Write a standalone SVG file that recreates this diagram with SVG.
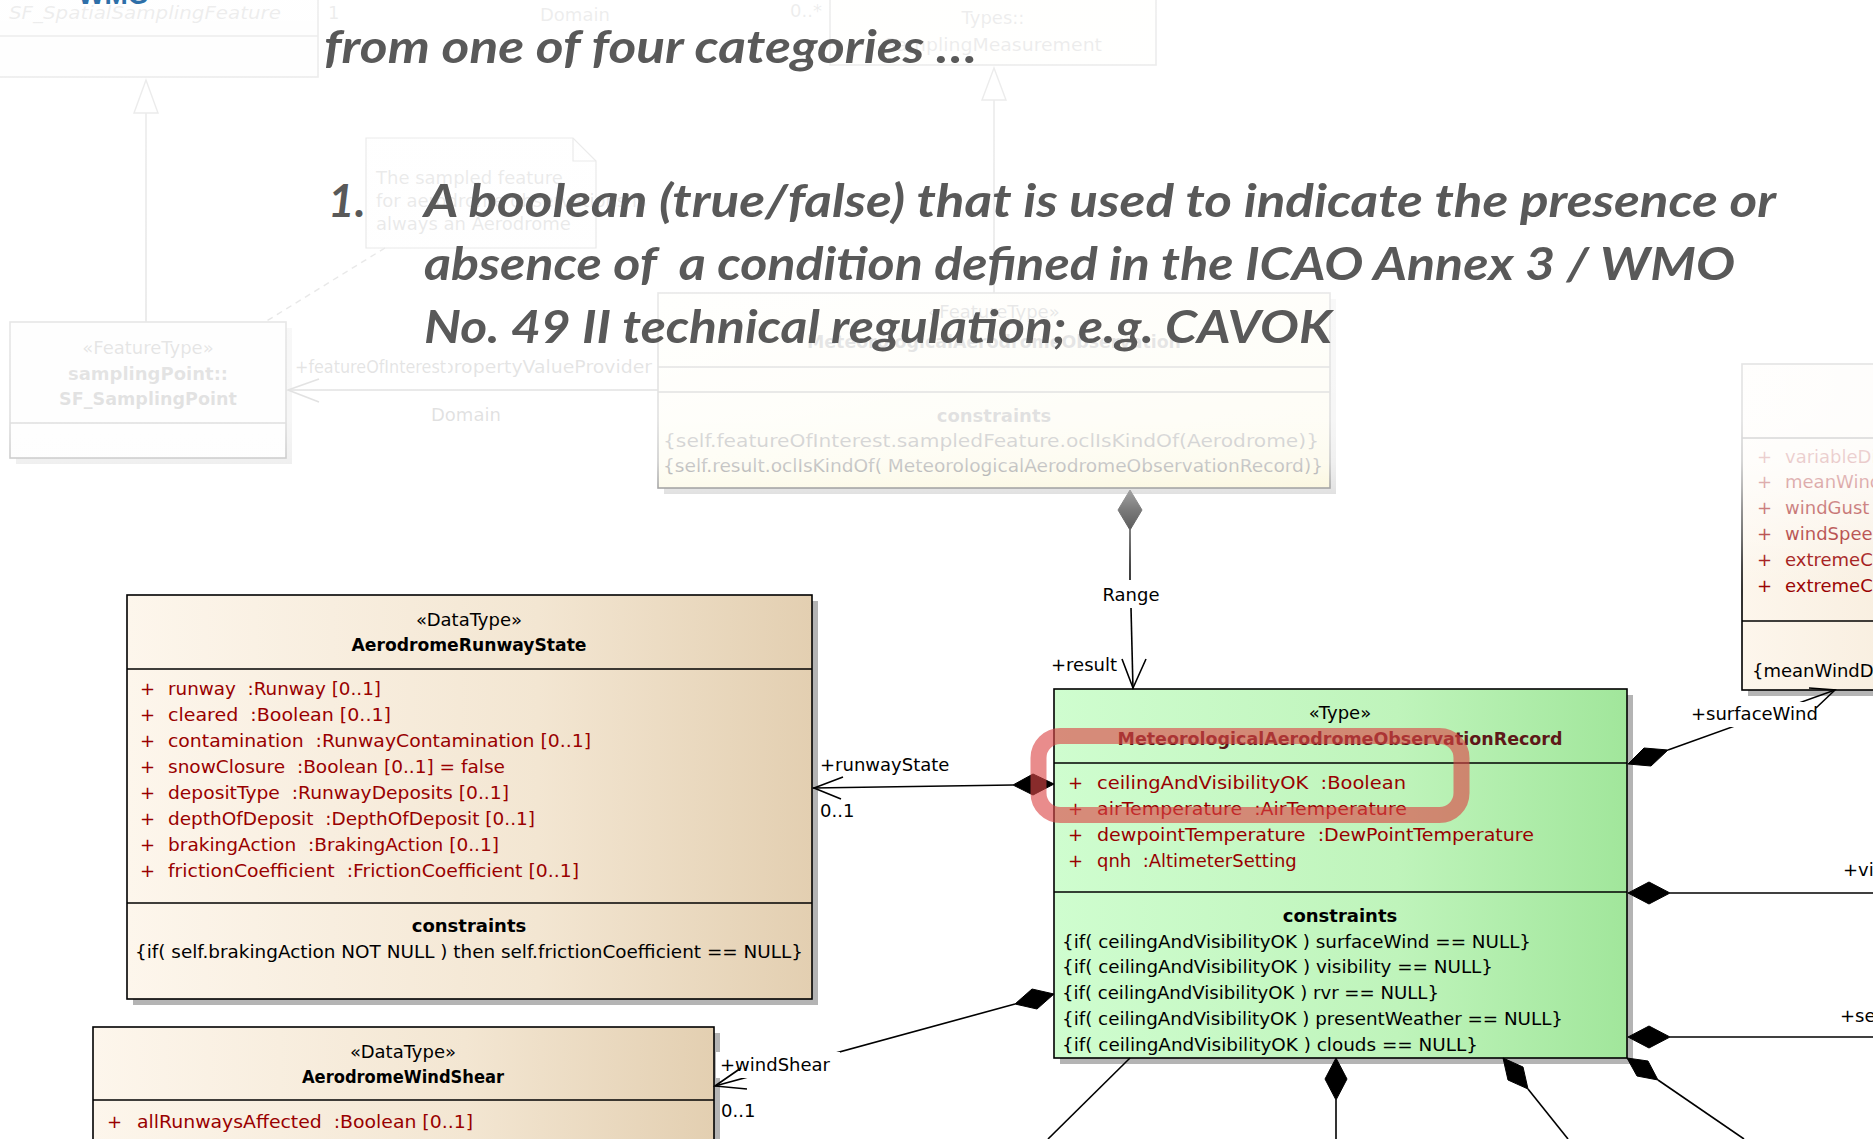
<svg xmlns="http://www.w3.org/2000/svg" width="1873" height="1139" viewBox="0 0 1873 1139">
<defs>
  <linearGradient id="gCream" x1="0" y1="0" x2="1" y2="0">
    <stop offset="0" stop-color="#fdf6ec"/><stop offset="0.6" stop-color="#f3e6d2"/><stop offset="1" stop-color="#e3cfb1"/>
  </linearGradient>
  <linearGradient id="gGreen" x1="0" y1="0" x2="1" y2="0">
    <stop offset="0" stop-color="#cffdcf"/><stop offset="0.6" stop-color="#bff4bb"/><stop offset="1" stop-color="#a1e69b"/>
  </linearGradient>
  <linearGradient id="gYellow" x1="0" y1="0" x2="1" y2="1">
    <stop offset="0" stop-color="#ffffee"/><stop offset="1" stop-color="#f4e9a8"/>
  </linearGradient>
  <linearGradient id="gFade" gradientUnits="userSpaceOnUse" x1="0" y1="0" x2="0" y2="600">
    <stop offset="0" stop-color="#fff" stop-opacity="0.93"/>
    <stop offset="0.5" stop-color="#fff" stop-opacity="0.91"/>
    <stop offset="0.70" stop-color="#fff" stop-opacity="0.88"/>
    <stop offset="0.77" stop-color="#fff" stop-opacity="0.8"/>
    <stop offset="0.813" stop-color="#fff" stop-opacity="0.65"/>
    <stop offset="0.85" stop-color="#fff" stop-opacity="0.48"/>
    <stop offset="0.9" stop-color="#fff" stop-opacity="0.3"/>
    <stop offset="0.943" stop-color="#fff" stop-opacity="0.1"/>
    <stop offset="0.985" stop-color="#fff" stop-opacity="0"/>
  </linearGradient>
</defs>
<style>
  .t{font-family:"DejaVu Sans",Verdana,sans-serif;font-size:18px;fill:#000;white-space:pre}
  .tb{font-weight:bold}
  .ti{font-style:italic}
  .tm{text-anchor:middle}
  .te{text-anchor:end}
  .tr{fill:#990000}
  .box{stroke:#000;stroke-width:1.6}
  .sh{fill:#b4b4b4}
  .ln{stroke:#000;stroke-width:1.6;fill:none}
  .dia{fill:#000;stroke:#000;stroke-width:1}
  .lbg{fill:#fff}
  .slide{font-family:Lato,"Open Sans",sans-serif;font-weight:700;font-style:italic;font-size:46px;fill:#595959;white-space:pre}
</style>
<rect x="0" y="0" width="1873" height="1139" fill="#fff"/>

<!-- faded upper nodes -->
<g id="SF_SpatialSamplingFeature">
  <rect x="-4" y="-10" width="322" height="87" fill="#f8f8f8" class="box"/>
  <line x1="-4" y1="36" x2="318" y2="36" class="ln"/>
  <text x="145" y="19" class="t ti tm" textLength="272" lengthAdjust="spacingAndGlyphs">SF_SpatialSamplingFeature</text>
</g>
<g id="Types_SamplingMeasurement">
  <rect x="830" y="-10" width="326" height="75" fill="#ffffee" class="box"/>
  <text x="993" y="24" class="t tm">Types::</text>
  <text x="993" y="51" class="t tm" textLength="218" lengthAdjust="spacingAndGlyphs">SamplingMeasurement</text>
</g>
<g id="note">
  <polygon points="366,138 573,138 596,161 596,248 366,248" fill="#fbfbfb" stroke="#000" stroke-width="1.2"/>
  <path d="M573,138 V161 H596" fill="none" stroke="#000" stroke-width="1.2"/>
  <text x="376" y="184" class="t">The sampled feature</text>
  <text x="376" y="207" class="t">for aerodrome observations is</text>
  <text x="376" y="230" class="t">always an Aerodrome</text>
</g>
<g id="samplingPoint">
  <rect x="16" y="328" width="276" height="136" class="sh"/>
  <rect x="10" y="322" width="276" height="136" fill="#f8f8f8" class="box"/>
  <line x1="10" y1="423" x2="286" y2="423" class="ln"/>
  <text x="148" y="354" class="t tm">«FeatureType»</text>
  <text x="148" y="380" class="t tb tm">samplingPoint::</text>
  <text x="148" y="405" class="t tb tm" textLength="178" lengthAdjust="spacingAndGlyphs">SF_SamplingPoint</text>
</g>
<g id="MeteorologicalAerodromeObservation">
  <rect x="664" y="299" width="672" height="195" class="sh"/>
  <rect x="658" y="293" width="672" height="195" fill="url(#gYellow)" class="box"/>
  <line x1="658" y1="367" x2="1330" y2="367" class="ln"/>
  <line x1="658" y1="392" x2="1330" y2="392" class="ln"/>
  <text x="994" y="318" class="t tm">«FeatureType»</text>
  <text x="994" y="348" class="t tb tm" textLength="374" lengthAdjust="spacingAndGlyphs">MeteorologicalAerodromeObservation</text>
  <text x="994" y="422" class="t tb tm">constraints</text>
  <text x="663" y="447" class="t" textLength="656" lengthAdjust="spacingAndGlyphs">{self.featureOfInterest.sampledFeature.oclIsKindOf(Aerodrome)}</text>
  <text x="663" y="472" class="t" textLength="660" lengthAdjust="spacingAndGlyphs">{self.result.oclIsKindOf( MeteorologicalAerodromeObservationRecord)}</text>
</g>
<g id="WindBox">
  <rect x="1748" y="370" width="520" height="326" class="sh"/>
  <rect x="1742" y="364" width="520" height="326" fill="url(#gCream)" class="box"/>
  <line x1="1742" y1="438" x2="2262" y2="438" class="ln"/>
  <line x1="1742" y1="621" x2="2262" y2="621" class="ln"/>
  <text x="1757" y="463" class="t tr">+</text><text x="1785" y="463" class="t tr">variableDirection</text>
  <text x="1757" y="488" class="t tr">+</text><text x="1785" y="488" class="t tr">meanWindDirection</text>
  <text x="1757" y="514" class="t tr">+</text><text x="1785" y="514" class="t tr">windGust</text>
  <text x="1757" y="540" class="t tr">+</text><text x="1785" y="540" class="t tr">windSpeed</text>
  <text x="1757" y="566" class="t tr">+</text><text x="1785" y="566" class="t tr">extremeClockwiseWindDirection</text>
  <text x="1757" y="592" class="t tr">+</text><text x="1785" y="592" class="t tr">extremeCounterClockwiseWindDirection</text>
  <text x="1752" y="677" class="t">{meanWindDirection</text>
</g>

<!-- lower nodes -->
<g id="AerodromeRunwayState">
  <rect x="133" y="601" width="685" height="404" class="sh"/>
  <rect x="127" y="595" width="685" height="404" fill="url(#gCream)" class="box"/>
  <line x1="127" y1="669" x2="812" y2="669" class="ln"/>
  <line x1="127" y1="903" x2="812" y2="903" class="ln"/>
  <text x="469" y="626" class="t tm">«DataType»</text>
  <text x="469" y="651" class="t tb tm" textLength="235" lengthAdjust="spacingAndGlyphs">AerodromeRunwayState</text>
  <text x="140" y="695" class="t tr">+</text><text x="168" y="695" class="t tr" textLength="213" lengthAdjust="spacingAndGlyphs">runway  :Runway [0..1]</text>
  <text x="140" y="721" class="t tr">+</text><text x="168" y="721" class="t tr" textLength="223" lengthAdjust="spacingAndGlyphs">cleared  :Boolean [0..1]</text>
  <text x="140" y="747" class="t tr">+</text><text x="168" y="747" class="t tr" textLength="423" lengthAdjust="spacingAndGlyphs">contamination  :RunwayContamination [0..1]</text>
  <text x="140" y="773" class="t tr">+</text><text x="168" y="773" class="t tr" textLength="337" lengthAdjust="spacingAndGlyphs">snowClosure  :Boolean [0..1] = false</text>
  <text x="140" y="799" class="t tr">+</text><text x="168" y="799" class="t tr" textLength="341" lengthAdjust="spacingAndGlyphs">depositType  :RunwayDeposits [0..1]</text>
  <text x="140" y="825" class="t tr">+</text><text x="168" y="825" class="t tr" textLength="367" lengthAdjust="spacingAndGlyphs">depthOfDeposit  :DepthOfDeposit [0..1]</text>
  <text x="140" y="851" class="t tr">+</text><text x="168" y="851" class="t tr" textLength="331" lengthAdjust="spacingAndGlyphs">brakingAction  :BrakingAction [0..1]</text>
  <text x="140" y="877" class="t tr">+</text><text x="168" y="877" class="t tr" textLength="411" lengthAdjust="spacingAndGlyphs">frictionCoefficient  :FrictionCoefficient [0..1]</text>
  <text x="469" y="932" class="t tb tm">constraints</text>
  <text x="135" y="958" class="t" textLength="668" lengthAdjust="spacingAndGlyphs">{if( self.brakingAction NOT NULL ) then self.frictionCoefficient == NULL}</text>
</g>
<g id="AerodromeWindShear">
  <rect x="99" y="1033" width="621" height="140" class="sh"/>
  <rect x="93" y="1027" width="621" height="140" fill="url(#gCream)" class="box"/>
  <line x1="93" y1="1100" x2="714" y2="1100" class="ln"/>
  <text x="403" y="1058" class="t tm">«DataType»</text>
  <text x="403" y="1083" class="t tb tm" textLength="202" lengthAdjust="spacingAndGlyphs">AerodromeWindShear</text>
  <text x="107" y="1128" class="t tr">+</text><text x="137" y="1128" class="t tr" textLength="336" lengthAdjust="spacingAndGlyphs">allRunwaysAffected  :Boolean [0..1]</text>
</g>
<g id="MeteorologicalAerodromeObservationRecord">
  <rect x="1060" y="695" width="573" height="369" class="sh"/>
  <rect x="1054" y="689" width="573" height="369" fill="url(#gGreen)" class="box"/>
  <line x1="1054" y1="763" x2="1627" y2="763" class="ln"/>
  <line x1="1054" y1="892" x2="1627" y2="892" class="ln"/>
  <text x="1340" y="719" class="t tm">«Type»</text>
  <text x="1340" y="745" class="t tb tm" style="fill:#5e1818" textLength="445" lengthAdjust="spacingAndGlyphs">MeteorologicalAerodromeObservationRecord</text>
  <text x="1068" y="789" class="t tr">+</text><text x="1097" y="789" class="t tr" textLength="309" lengthAdjust="spacingAndGlyphs">ceilingAndVisibilityOK  :Boolean</text>
  <text x="1068" y="815" class="t tr">+</text><text x="1097" y="815" class="t tr" textLength="310" lengthAdjust="spacingAndGlyphs">airTemperature  :AirTemperature</text>
  <text x="1068" y="841" class="t tr">+</text><text x="1097" y="841" class="t tr" textLength="437" lengthAdjust="spacingAndGlyphs">dewpointTemperature  :DewPointTemperature</text>
  <text x="1068" y="867" class="t tr">+</text><text x="1097" y="867" class="t tr">qnh  :AltimeterSetting</text>
  <text x="1340" y="922" class="t tb tm">constraints</text>
  <text x="1062" y="948" class="t" textLength="469" lengthAdjust="spacingAndGlyphs">{if( ceilingAndVisibilityOK ) surfaceWind == NULL}</text>
  <text x="1062" y="973" class="t" textLength="431" lengthAdjust="spacingAndGlyphs">{if( ceilingAndVisibilityOK ) visibility == NULL}</text>
  <text x="1062" y="999" class="t" textLength="377" lengthAdjust="spacingAndGlyphs">{if( ceilingAndVisibilityOK ) rvr == NULL}</text>
  <text x="1062" y="1025" class="t" textLength="501" lengthAdjust="spacingAndGlyphs">{if( ceilingAndVisibilityOK ) presentWeather == NULL}</text>
  <text x="1062" y="1051" class="t" textLength="416" lengthAdjust="spacingAndGlyphs">{if( ceilingAndVisibilityOK ) clouds == NULL}</text>
</g>

<g id="connectors">
  <!-- generalizations (faded) -->
  <line x1="146" y1="113" x2="146" y2="322" class="ln"/>
  <polygon points="146,80 134,113 158,113" fill="#fff" stroke="#000" stroke-width="1.4"/>
  <line x1="994" y1="100" x2="994" y2="293" class="ln"/>
  <polygon points="994,68 982,100 1006,100" fill="#fff" stroke="#000" stroke-width="1.4"/>
  <text x="328" y="19" class="t">1</text>
  <text x="540" y="21" class="t">Domain</text>
  <text x="790" y="17" class="t">0..*</text>
  <!-- note link -->
  <line x1="385" y1="248" x2="265" y2="322" stroke="#000" stroke-width="1.4" stroke-dasharray="6,5"/>
  <!-- featureOfInterest -->
  <line x1="658" y1="390" x2="288" y2="390" class="ln"/>
  <polyline points="319,379 288,390 319,402" class="ln"/>
  <text x="652" y="373" class="t te" textLength="226" lengthAdjust="spacingAndGlyphs">+propertyValueProvider</text>
  <rect x="293" y="357" width="155" height="21" class="lbg"/>
  <text x="295" y="373" class="t" textLength="151" lengthAdjust="spacingAndGlyphs">+featureOfInterest</text>
  <text x="431" y="421" class="t">Domain</text>
  <!-- Range / result -->
  <polygon points="1130,490 1142,510 1130,530 1118,510" class="dia"/>
  <line x1="1130" y1="530" x2="1130" y2="580" class="ln"/>
  <text x="1131" y="601" class="t tm">Range</text>
  <line x1="1131" y1="608" x2="1133" y2="689" class="ln"/>
  <polyline points="1122,659 1133,688 1146,659" class="ln"/>
  <text x="1117" y="671" class="t te">+result</text>
  <!-- runwayState -->
  <line x1="813" y1="788" x2="1013" y2="785" class="ln"/>
  <polyline points="843,777 814,788 841,799" class="ln"/>
  <polygon points="1013,785 1033,774 1054,784 1033,795" class="dia"/>
  <text x="820" y="771" class="t">+runwayState</text>
  <text x="820" y="817" class="t">0..1</text>
  <!-- windShear -->
  <polygon points="1054,994 1037,1009 1015,1004 1032,989" class="dia"/>
  <line x1="1015" y1="1004" x2="715" y2="1086" class="ln"/>
  <rect x="716" y="1052" width="124" height="26" class="lbg"/>
  <polyline points="741,1068 715,1086 747,1089" class="ln"/>
  <text x="720" y="1071" class="t">+windShear</text>
  <text x="721" y="1117" class="t">0..1</text>
  <!-- surfaceWind -->
  <polygon points="1628,764 1651,766 1668,750 1644,748" class="dia"/>
  <line x1="1668" y1="750" x2="1835" y2="690" class="ln"/>
  <rect x="1688" y="702" width="132" height="25" class="lbg"/>
  <polyline points="1816,708 1835,690 1809,688" class="ln"/>
  <text x="1691" y="720" class="t">+surfaceWind</text>
  <!-- right horizontal -->
  <polygon points="1628,893 1649,882 1670,893 1649,904" class="dia"/>
  <line x1="1670" y1="893" x2="1873" y2="893" class="ln"/>
  <text x="1843" y="876" class="t">+visibility</text>
  <polygon points="1628,1037 1649,1026 1670,1037 1649,1048" class="dia"/>
  <line x1="1670" y1="1037" x2="1873" y2="1037" class="ln"/>
  <text x="1840" y="1022" class="t">+seaState</text>
  <!-- bottom -->
  <line x1="1130" y1="1058" x2="1048" y2="1139" class="ln"/>
  <polygon points="1336,1058 1347,1079 1336,1100 1325,1079" class="dia"/>
  <line x1="1336" y1="1100" x2="1336" y2="1139" class="ln"/>
  <polygon points="1503,1058 1523,1067 1528,1089 1508,1080" class="dia"/>
  <line x1="1528" y1="1089" x2="1568" y2="1139" class="ln"/>
  <polygon points="1627,1058 1648,1061 1658,1080 1637,1076" class="dia"/>
  <line x1="1658" y1="1080" x2="1744" y2="1139" class="ln"/>
</g>

<!-- highlight -->
<rect id="highlight" x="1038.5" y="736" width="423" height="79" rx="22" fill="none" stroke="#dc4646" stroke-opacity="0.62" stroke-width="16"/>

<!-- fade overlay -->
<rect x="0" y="0" width="1873" height="600" fill="url(#gFade)"/>

<!-- slide text -->
<text x="78" y="4" font-family="Liberation Sans, Arial, sans-serif" font-weight="bold" font-size="28" fill="#2e6fa8">WMO</text>
<g id="slide-text">
  <text x="324" y="63" class="slide" textLength="653" lengthAdjust="spacingAndGlyphs">from one of four categories …</text>
  <text x="328" y="217" class="slide">1.</text>
  <text x="424" y="217" class="slide" textLength="1352" lengthAdjust="spacingAndGlyphs">A boolean (true/false) that is used to indicate the presence or</text>
  <text x="424" y="280" class="slide" textLength="1311" lengthAdjust="spacingAndGlyphs">absence of  a condition defined in the ICAO Annex 3 / WMO</text>
  <text x="424" y="343" class="slide" textLength="908" lengthAdjust="spacingAndGlyphs">No. 49 II technical regulation; e.g. CAVOK</text>
</g>
</svg>
